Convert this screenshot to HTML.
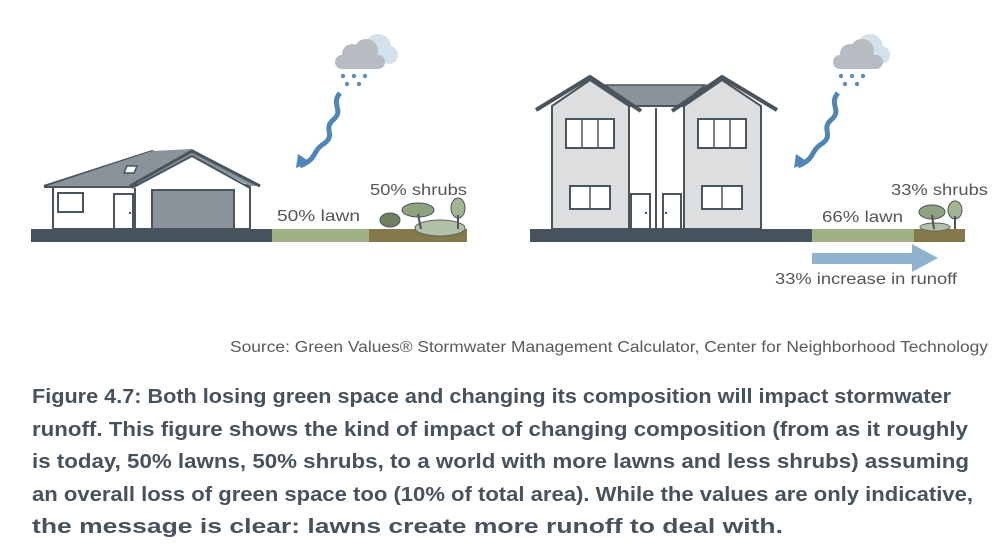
<!DOCTYPE html>
<html><head><meta charset="utf-8"><style>
html,body{margin:0;padding:0;background:#fff;}
svg{display:block;}
</style></head><body>
<svg width="1002" height="547" viewBox="0 0 1002 547" xmlns="http://www.w3.org/2000/svg" font-family="Liberation Sans, sans-serif">
<!-- LEFT SCENE -->
<polygon points="44,186 152,151 170,157 150,186" fill="#8a939b" stroke="#4a545c" stroke-width="2"/>
<rect x="53" y="185" width="197" height="44" fill="#fff" stroke="#4a545c" stroke-width="2"/>
<polygon points="44,187 152,151 192,149 260,186 250,186 192,156 132,186" fill="#8a939b"/>
<polyline points="130,186 192,151 260,186" fill="none" stroke="#4a545c" stroke-width="3"/>
<polyline points="132,188 192,156 250,188" fill="#fff" stroke="#4a545c" stroke-width="2"/>
<line x1="44" y1="187" x2="133" y2="187" stroke="#4a545c" stroke-width="2"/>
<line x1="135" y1="188" x2="135" y2="229" stroke="#4a545c" stroke-width="2"/>
<polygon points="127,166 137,166 134,173 124,173" fill="#fff" stroke="#4a545c" stroke-width="1.5"/>
<rect x="152" y="190" width="82" height="39" fill="#8a939b" stroke="#4a545c" stroke-width="2"/>
<rect x="58" y="193" width="25" height="19" fill="#fff" stroke="#4a545c" stroke-width="2"/>
<rect x="114" y="194" width="19" height="35" fill="#fff" stroke="#4a545c" stroke-width="2"/>
<circle cx="130" cy="213" r="1.2" fill="#4a545c"/>
<rect x="31" y="229" width="241" height="13" fill="#46525c"/>
<rect x="272" y="229" width="97" height="13" fill="#a1b183"/>
<rect x="369" y="229" width="98" height="13" fill="#85784a"/>
<ellipse cx="440" cy="228" rx="25" ry="8" fill="#b4c0a8" stroke="#5a6560"/>
<ellipse cx="390" cy="220" rx="10" ry="7" fill="#6f8060" stroke="#4a545c"/>
<ellipse cx="418" cy="210" rx="16" ry="7" fill="#8da27e" stroke="#4a545c"/>
<line x1="418" y1="214" x2="421" y2="229" stroke="#4a545c" stroke-width="2"/>
<ellipse cx="458" cy="208" rx="7" ry="10" fill="#a3b58e" stroke="#4a545c"/>
<line x1="458" y1="215" x2="458" y2="229" stroke="#4a545c" stroke-width="2"/>
<g>
<circle cx="378" cy="47" r="13" fill="#d3e1ec"/><circle cx="389" cy="55" r="9" fill="#d3e1ec"/>
<rect x="335" y="55" width="50" height="14" rx="7" fill="#b6bcc1"/>
<circle cx="352" cy="54" r="10" fill="#b6bcc1"/><circle cx="366" cy="51" r="12" fill="#b6bcc1"/>
<g fill="#5b8fbd"><circle cx="343" cy="76" r="2.2"/><circle cx="354" cy="76" r="2.2"/><circle cx="365" cy="76" r="2.2"/><circle cx="347" cy="84" r="2.2"/><circle cx="359" cy="84" r="2.2"/></g>
<path d="M340,93 C330,105 345,110 333,120 C322,130 338,135 322,145 C312,152 318,158 300,166" fill="none" stroke="#4f86b8" stroke-width="5"/>
<polygon points="296,168 298,154 310,162" fill="#4f86b8"/>
</g>
<text x="277" y="221" font-size="16" fill="#555" textLength="83" lengthAdjust="spacingAndGlyphs">50% lawn</text>
<text x="370" y="195" font-size="16" fill="#555" textLength="97" lengthAdjust="spacingAndGlyphs">50% shrubs</text>

<!-- RIGHT SCENE -->
<polygon points="605,85 705,85 678,108 635,108" fill="#8a939b" stroke="#4a545c" stroke-width="1.5"/>
<rect x="629" y="106" width="55" height="123" fill="#fff" stroke="#4a545c" stroke-width="2"/>
<line x1="656" y1="108" x2="656" y2="229" stroke="#4a545c" stroke-width="2"/>
<polygon points="552,106 590,80 629,106 629,229 552,229" fill="#dcdee0" stroke="#4a545c" stroke-width="2"/>
<polygon points="684,106 722,80 761,106 761,229 684,229" fill="#dcdee0" stroke="#4a545c" stroke-width="2"/>
<polyline points="536,110 590,77 641,111" fill="none" stroke="#4a545c" stroke-width="4"/>
<polyline points="672,111 722,77 777,110" fill="none" stroke="#4a545c" stroke-width="4"/>
<g fill="#fff" stroke="#4a545c" stroke-width="2">
<rect x="566" y="119" width="48" height="29"/><rect x="698" y="119" width="48" height="29"/>
<rect x="570" y="186" width="40" height="23"/><rect x="702" y="186" width="40" height="23"/>
<rect x="631" y="194" width="19" height="35"/><rect x="663" y="194" width="18" height="35"/>
</g>
<g stroke="#4a545c" stroke-width="1.5">
<line x1="582" y1="119" x2="582" y2="148"/><line x1="598" y1="119" x2="598" y2="148"/>
<line x1="714" y1="119" x2="714" y2="148"/><line x1="730" y1="119" x2="730" y2="148"/>
<line x1="590" y1="186" x2="590" y2="209"/><line x1="722" y1="186" x2="722" y2="209"/>
</g>
<circle cx="646" cy="213" r="1.2" fill="#4a545c"/><circle cx="666" cy="213" r="1.2" fill="#4a545c"/>
<rect x="530" y="229" width="282" height="13" fill="#46525c"/>
<rect x="812" y="229" width="102" height="13" fill="#a1b183"/>
<rect x="914" y="229" width="51" height="13" fill="#85784a"/>
<ellipse cx="935" cy="227" rx="15" ry="4" fill="#b4c0a8" stroke="#5a6560"/>
<ellipse cx="932" cy="212" rx="13" ry="7" fill="#8da27e" stroke="#4a545c"/>
<line x1="932" y1="215" x2="934" y2="229" stroke="#4a545c" stroke-width="2"/>
<ellipse cx="955" cy="210" rx="7" ry="9" fill="#a3b58e" stroke="#4a545c"/>
<line x1="955" y1="216" x2="955" y2="229" stroke="#4a545c" stroke-width="2"/>
<g>
<circle cx="870" cy="47" r="13" fill="#d3e1ec"/><circle cx="881" cy="55" r="9" fill="#d3e1ec"/>
<rect x="833" y="55" width="50" height="14" rx="7" fill="#b6bcc1"/>
<circle cx="850" cy="54" r="10" fill="#b6bcc1"/><circle cx="862" cy="51" r="12" fill="#b6bcc1"/>
<g fill="#5b8fbd"><circle cx="841" cy="76" r="2.2"/><circle cx="852" cy="76" r="2.2"/><circle cx="863" cy="76" r="2.2"/><circle cx="845" cy="84" r="2.2"/><circle cx="857" cy="84" r="2.2"/></g>
<path d="M838,93 C828,105 843,110 831,120 C820,130 836,135 820,145 C810,152 816,158 798,166" fill="none" stroke="#4f86b8" stroke-width="5"/>
<polygon points="794,168 796,154 808,162" fill="#4f86b8"/>
</g>
<rect x="812" y="253" width="102" height="11" fill="#8fb2cf"/>
<polygon points="912,244 938,258 912,272" fill="#8fb2cf"/>
<text x="822" y="222" font-size="16" fill="#555" textLength="81" lengthAdjust="spacingAndGlyphs">66% lawn</text>
<text x="891" y="195" font-size="16" fill="#555" textLength="97" lengthAdjust="spacingAndGlyphs">33% shrubs</text>
<text x="775" y="284" font-size="16" fill="#555" textLength="182" lengthAdjust="spacingAndGlyphs">33% increase in runoff</text>

<text x="230" y="352" font-size="16" fill="#5a5a5a" textLength="758" lengthAdjust="spacingAndGlyphs">Source: Green Values® Stormwater Management Calculator, Center for Neighborhood Technology</text>
<g font-size="20" font-weight="bold" fill="#46525e">
<text x="32" y="403" textLength="919" lengthAdjust="spacingAndGlyphs">Figure 4.7: Both losing green space and changing its composition will impact stormwater</text>
<text x="32" y="436" textLength="936" lengthAdjust="spacingAndGlyphs">runoff. This figure shows the kind of impact of changing composition (from as it roughly</text>
<text x="32" y="468" textLength="937" lengthAdjust="spacingAndGlyphs">is today, 50% lawns, 50% shrubs, to a world with more lawns and less shrubs) assuming</text>
<text x="32" y="501" textLength="941" lengthAdjust="spacingAndGlyphs">an overall loss of green space too (10% of total area). While the values are only indicative,</text>
<text x="32" y="533" textLength="751" lengthAdjust="spacingAndGlyphs">the message is clear: lawns create more runoff to deal with.</text>
</g>
</svg>
</body></html>
